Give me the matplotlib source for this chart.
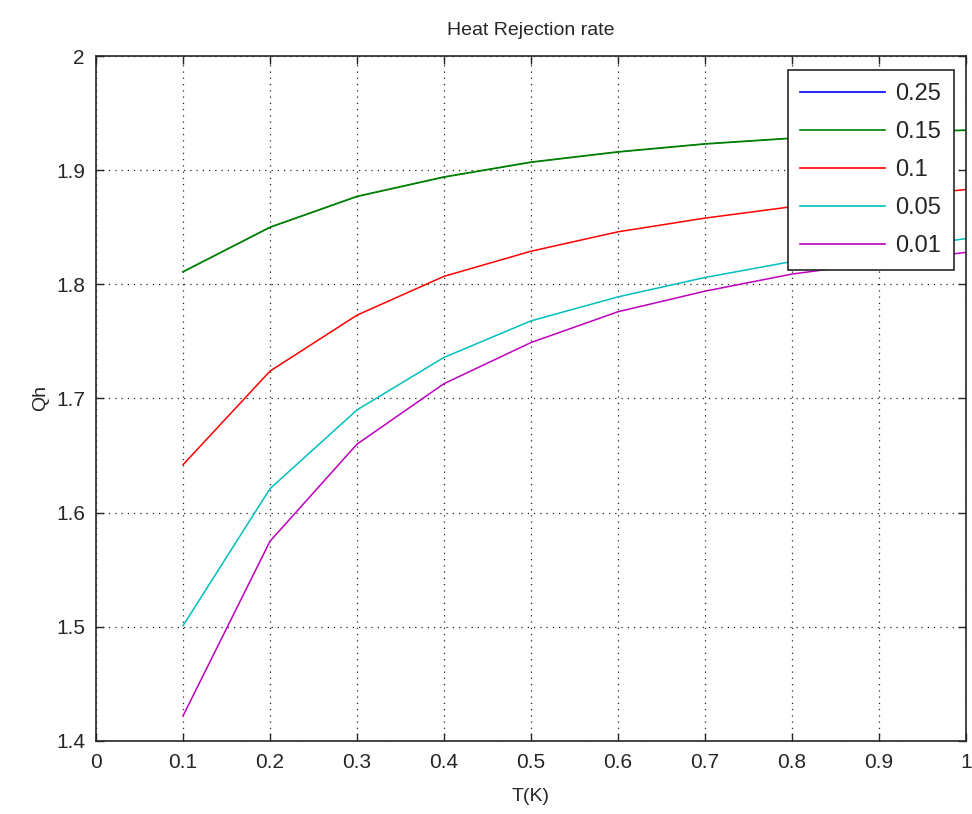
import numpy as np
import matplotlib
matplotlib.use("Agg")
import matplotlib.pyplot as plt

# temperatura (K)
T = [0.1, 0.2, 0.3, 0.4, 0.5, 0.6, 0.7, 0.8, 0.9, 1.0]

# Qh para cada valor del parametro
qh_025 = [1.811, 1.850, 1.877, 1.894, 1.907, 1.916, 1.923, 1.928, 1.933, 1.935]
qh_015 = [1.811, 1.850, 1.877, 1.894, 1.907, 1.916, 1.923, 1.928, 1.933, 1.935]
qh_010 = [1.642, 1.724, 1.773, 1.807, 1.829, 1.846, 1.858, 1.868, 1.876, 1.883]
qh_005 = [1.501, 1.621, 1.690, 1.736, 1.768, 1.789, 1.806, 1.820, 1.830, 1.840]
qh_001 = [1.422, 1.575, 1.660, 1.713, 1.749, 1.776, 1.794, 1.809, 1.819, 1.828]

etiquetas = ['0.25', '0.15', '0.1', '0.05', '0.01']

plt.rcParams['font.family'] = ['Liberation Sans', 'DejaVu Sans']

fig = plt.figure(figsize=(9.72, 8.14), dpi=100)
fig.patch.set_facecolor('white')
ax1 = fig.add_axes([0.0988, 0.0897, 0.895, 0.8415])

# la curva 0.25 queda tapada por la 0.15
l025, = ax1.plot(T, qh_025, color='#0000ff', lw=0.5, label=etiquetas[0], zorder=1)
ax1.plot(T, qh_015, color='#008000', lw=1.3, label=etiquetas[1], zorder=2)
ax1.plot(T, qh_010, color='#ff0000', lw=1.1, label=etiquetas[2], zorder=2)
ax1.plot(T, qh_005, color='#00bfbf', lw=1.1, label=etiquetas[3], zorder=2)
ax1.plot(T, qh_001, color='#bf00bf', lw=1.1, label=etiquetas[4], zorder=2)

ax1.set_xlim(0, 1)
ax1.set_ylim(1.4, 2)
ax1.set_xticks(np.arange(0, 1.01, 0.1))
ax1.set_xticklabels(['0', '0.1', '0.2', '0.3', '0.4', '0.5', '0.6', '0.7', '0.8', '0.9', '1'])
ax1.set_yticks(np.arange(1.4, 2.01, 0.1))
ax1.set_yticklabels(['1.4', '1.5', '1.6', '1.7', '1.8', '1.9', '2'])
ax1.tick_params(direction='in', top=True, right=True, length=6, width=1,
                labelsize=15, color='#262626', labelcolor='#262626')
ax1.tick_params(axis='x', pad=9)
ax1.tick_params(axis='y', pad=8)
ax1.grid(True, linestyle=(0, (1, 4)), color='#262626', linewidth=0.9)
for s in ax1.spines.values():
    s.set_linewidth(1.2)
    s.set_color('#262626')

ax1.set_title('Heat Rejection rate', fontsize=14, color='#262626', pad=15)
ax1.set_xlabel('T(K)', fontsize=14, color='#262626', labelpad=11)
ax1.set_ylabel('Qh', fontsize=14, color='#262626', labelpad=5)

leg = ax1.legend(loc='upper right', bbox_to_anchor=(0.986, 0.9796), fontsize=17,
                 handlelength=3.6, handletextpad=0.4, labelspacing=0.68,
                 borderpad=0.55, borderaxespad=0,
                 fancybox=False, framealpha=1, edgecolor='#262626')
leg.get_frame().set_linewidth(1.2)
for h in leg.get_lines():
    h.set_linewidth(1.2)
for t in leg.get_texts():
    t.set_color('#262626')

fig.savefig('out.png', dpi=100)
